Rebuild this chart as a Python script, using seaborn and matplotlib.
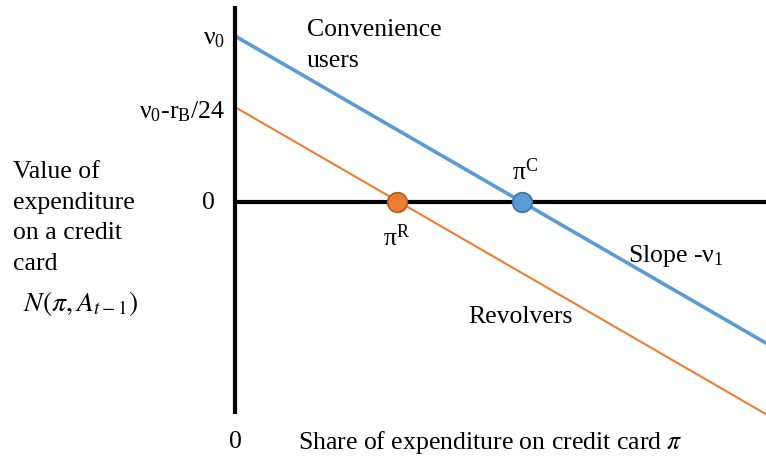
import matplotlib
matplotlib.use("Agg")
import matplotlib.pyplot as plt
import seaborn as sns
import numpy as np
import pandas as pd

# ---- data (theoretical diagram) ----
share_pi = [0.0, 1.0]                 # share of expenditure on credit card
convenience_vals = [1.0, -0.85]       # v0 - v1*pi
revolver_vals = [0.572, -1.278]       # v0 - rB/24 - v1*pi
pi_points = [0.306, 0.54]             # pi^R, pi^C
pi_point_vals = [0.0, 0.0]
series_names = ["Revolvers", "Convenience users"]

BLUE = "#5B9BD5"
ORANGE = "#ED7D31"

sns.set_theme(style="white")
plt.rcParams["font.family"] = ["Liberation Serif", "DejaVu Serif"]
plt.rcParams["mathtext.fontset"] = "stix"
plt.rcParams["text.color"] = "black"

fig = plt.figure(figsize=(7.66, 4.6), dpi=100)
ax = fig.add_axes([0, 0, 1, 1])
ax.set_xlim(-0.4426, 1.0)
ax.set_ylim(-1.548, 1.223)
ax.set_axis_off()

df = pd.DataFrame({
    "pi": share_pi * 2,
    "val": revolver_vals + convenience_vals,
    "grp": [series_names[0]] * 2 + [series_names[1]] * 2,
})
sns.lineplot(data=df[df.grp == series_names[0]], x="pi", y="val", color=ORANGE,
             linewidth=1.5, ax=ax, legend=False)
sns.lineplot(data=df[df.grp == series_names[1]], x="pi", y="val", color=BLUE,
             linewidth=2.6, ax=ax, legend=False)

# axes drawn as thick black lines
ax.plot([0, 0], [-1.277, 1.18], color="black", lw=3, solid_capstyle="butt", zorder=3)
ax.plot([0, 1.0], [0, 0], color="black", lw=3, solid_capstyle="butt", zorder=3)

sns.scatterplot(x=[pi_points[0]], y=[pi_point_vals[0]], color=ORANGE, s=200,
                edgecolor="#AE5A21", linewidth=1.2, ax=ax, zorder=5, legend=False)
sns.scatterplot(x=[pi_points[1]], y=[pi_point_vals[1]], color=BLUE, s=200,
                edgecolor="#41719C", linewidth=1.2, ax=ax, zorder=5, legend=False)

fs = 18.5
# y-axis value labels
ax.text(-0.018, convenience_vals[0] - 0.01, r"$\mathregular{\nu_0}$", ha="right", va="center", fontsize=fs)
ax.text(-0.018, revolver_vals[0] - 0.02, r"$\mathregular{\nu_0}$-r$\mathregular{_B}$/24",
        ha="right", va="center", fontsize=fs)
ax.text(-0.05, 0, "0", ha="center", va="center", fontsize=fs)
ax.text(0.0, -1.44, "0", ha="center", va="center", fontsize=fs)
ax.text(0.119, -1.44, r"Share of expenditure on credit card $\pi$", ha="left", va="center",
        fontsize=fs)

# y-axis title
ax.text(-0.418, -0.09, "Value of\nexpenditure\non a credit\ncard", ha="left", va="center",
        fontsize=fs, linespacing=1.5)
ax.text(-0.399, -0.605, r"$N(\pi, A_{t-1})$", ha="left", va="center", fontsize=20)

# annotations
ax.text(0.135, 0.95, "Convenience\nusers", ha="left", va="center", fontsize=fs, linespacing=1.5)
ax.text(0.546, 0.19, r"$\mathregular{\pi^C}$", ha="center", va="center", fontsize=fs)
ax.text(0.304, -0.21, r"$\mathregular{\pi^R}$", ha="center", va="center", fontsize=fs)
ax.text(0.74, -0.32, r"Slope -$\mathregular{\nu_1}$", ha="left", va="center", fontsize=fs)
ax.text(0.44, -0.685, "Revolvers", ha="left", va="center", fontsize=fs)

fig.savefig("out.png", dpi=100)
